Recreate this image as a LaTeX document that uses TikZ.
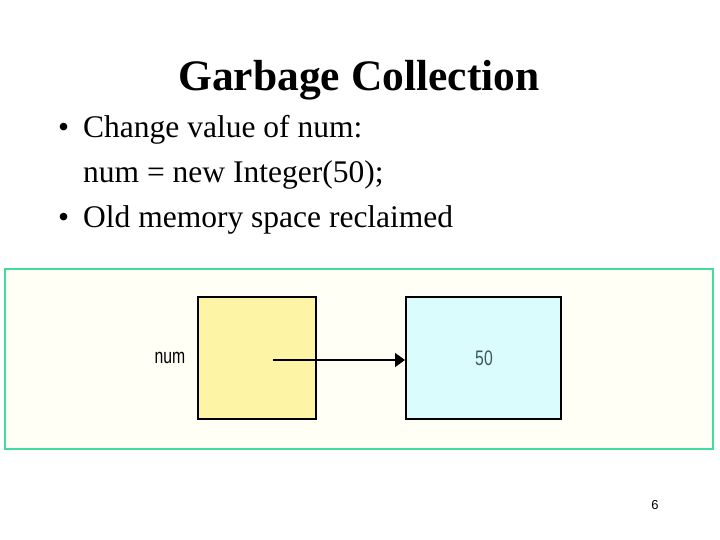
\documentclass[tikz,border=0pt]{standalone}
\usepackage{fontspec}
\usetikzlibrary{arrows.meta}
\setmainfont{Liberation Serif}
\newfontfamily\lsans{Liberation Sans}
\begin{document}
\begin{tikzpicture}[x=1pt,y=-1pt,
  box/.style={draw=black,line width=1.2pt},
  txt/.style={anchor=base west,inner sep=0pt,font=\fontsize{31.5}{33}\selectfont}]
\useasboundingbox (0,0) rectangle (720,540);
\node[font=\fontsize{43.5}{46}\selectfont\bfseries] (title) at (359,80) {Garbage Collection};
\node[txt] (b1) at (58,138) {•};
\node[txt] (t1) at (83,138) {Change value of num:};
\node[txt] (t2) at (83,183) {num = new Integer(50);};
\node[txt] (b2) at (58,228) {•};
\node[txt] (t3) at (83,228) {Old memory space reclaimed};
\draw[draw={rgb,255:red,64;green,220;blue,160},line width=1.5pt,fill={rgb,255:red,255;green,255;blue,246}] (5,269) rectangle (713,449);
\draw[box,fill={rgb,255:red,253;green,245;blue,165}] (198,297) rectangle (316,419);
\draw[box,fill={rgb,255:red,219;green,252;blue,253}] (406,297) rectangle (561,419);
\node[font=\lsans\fontsize{21}{22}\selectfont,xscale=0.75] (num) at (170,358) {num};
\node[font=\lsans\fontsize{21}{22}\selectfont,xscale=0.75,text={rgb,255:red,60;green,90;blue,90}] (fifty) at (484,358) {50};
\coordinate (s) at (273,360);
\coordinate (e) at (405,360);
\draw[line width=1.5pt,-{Triangle[length=10pt,width=14pt]}] (s) -- (e);
\node[font=\lsans\fontsize{13}{14}\selectfont] (pg) at (655,505) {6};
\end{tikzpicture}
\end{document}
